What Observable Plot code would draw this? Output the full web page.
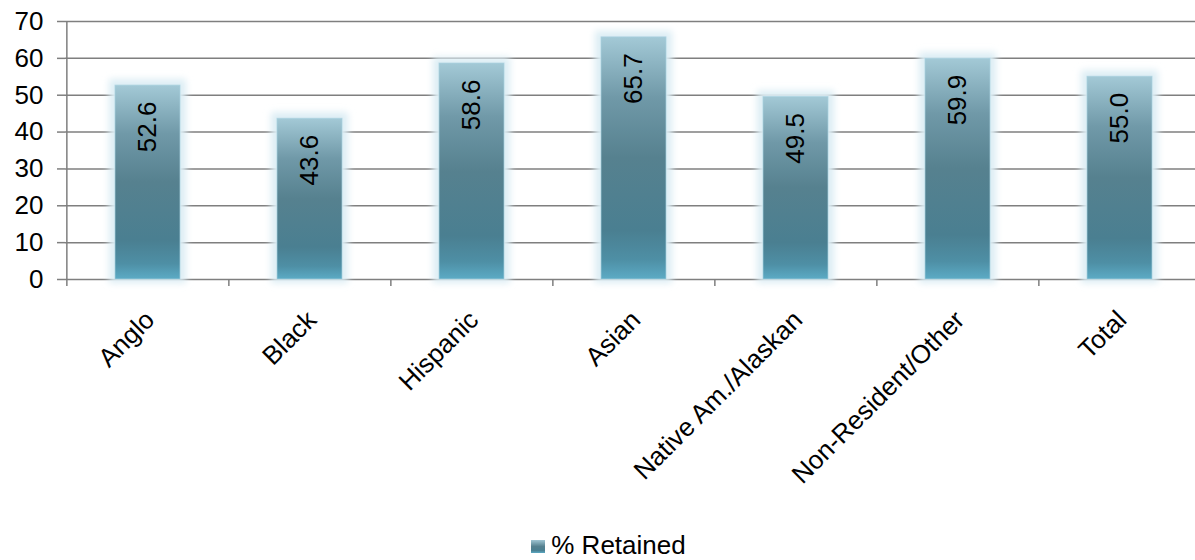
<!DOCTYPE html>
<html>
<head>
<meta charset="utf-8">
<script src="https://cdn.jsdelivr.net/npm/d3@7"></script>
<script src="https://cdn.jsdelivr.net/npm/@observablehq/plot@0.6"></script>
<style>
  html, body { margin: 0; padding: 0; background: #fff; }
  body { width: 1195px; height: 560px; overflow: hidden; font-family: "Liberation Sans", Arial, sans-serif; }
  #legend { height: 41px; display: flex; align-items: center; justify-content: center; padding-left: 22px; font-size: 26px; color: #000; }
  #legend .sw { width: 14px; height: 13px; margin-right: 6px; margin-top: 2px; background: linear-gradient(#9fc5d3, #55808f 50%, #4a7f91 80%, #5ba9c3); }
</style>
</head>
<body>
<div id="chart"></div>
<div id="legend"><span class="sw"></span><span>% Retained</span></div>
<script>
const categories = ["Anglo", "Black", "Hispanic", "Asian", "Native Am./Alaskan", "Non-Resident/Other", "Total"];
const retained = [52.6, 43.6, 58.6, 65.7, 49.5, 59.9, 55.0];
const yTicks = [0, 10, 20, 30, 40, 50, 60, 70];
const seriesName = "% Retained";

const data = categories.map((c, i) => ({cat: c, value: retained[i]}));

const W = 1195, H = 525;
const xRange = [65, 1201];
const step = (xRange[1] - xRange[0]) / categories.length;
const gray = "#7f7f7f";

const chart = Plot.plot({
  width: W,
  height: H,
  marginLeft: 65,
  marginRight: 0,
  marginTop: 21,
  marginBottom: H - 279,
  style: {fontFamily: "Liberation Sans, Arial, sans-serif", fontSize: "26px", color: "#000", background: "#fff"},
  x: {domain: categories, range: xRange, paddingInner: 0.6, paddingOuter: 0.3, axis: null},
  y: {domain: [0, 70], axis: null},
  marks: [
    Plot.ruleY(yTicks, {stroke: gray, strokeWidth: 1.5}),
    Plot.barY(data, {x: "cat", y: "value", fill: "#dcedf4", insetLeft: -6, insetRight: -6, insetTop: -6, insetBottom: -4}),
    Plot.barY(data, {x: "cat", y: "value", fill: "url(#barGrad)", stroke: "#a9d2df", strokeWidth: 1, strokeOpacity: 0.7}),
    Plot.ruleX([categories[0]], {x: d => d, dx: -step / 2, y1: 0, y2: 70, stroke: gray, strokeWidth: 1.5}),
    Plot.axisX({anchor: "bottom", tickSize: 7, dx: -step / 2, tickFormat: () => "", label: null, stroke: gray, strokeWidth: 1.5}),
    Plot.axisY({ticks: yTicks, anchor: "left", tickSize: 8, tickPadding: 14, label: null, stroke: gray, strokeWidth: 1.5, fontSize: 26, fill: "#000"}),
    Plot.text(data, {x: "cat", y: "value", text: d => d.value.toFixed(1), rotate: -90, textAnchor: "end", lineAnchor: "middle", dy: 16, fontSize: 26, fill: "#000"}),
    Plot.text(categories, {x: d => d, y: 0, text: d => d, rotate: -45, textAnchor: "end", lineAnchor: "bottom", dx: 8, dy: 42, fontSize: 26, fill: "#000"})
  ]
});

// gradient + glow defs
const ns = "http://www.w3.org/2000/svg";
const defs = document.createElementNS(ns, "defs");
defs.innerHTML = `
  <linearGradient id="barGrad" x1="0" y1="0" x2="0" y2="1">
    <stop offset="0" stop-color="#a3c9d6"/>
    <stop offset="0.25" stop-color="#7099a8"/>
    <stop offset="0.5" stop-color="#56818f"/>
    <stop offset="0.8" stop-color="#4a7f91"/>
    <stop offset="0.92" stop-color="#4e8fa5"/>
    <stop offset="1" stop-color="#5cabc5"/>
  </linearGradient>
  <filter id="glow" x="-30%" y="-10%" width="160%" height="120%">
    <feGaussianBlur stdDeviation="3.5"/>
  </filter>`;
chart.insertBefore(defs, chart.firstChild);
const barGroups = chart.querySelectorAll('g[aria-label="bar"]');
if (barGroups.length) barGroups[0].setAttribute("filter", "url(#glow)");

document.getElementById("chart").appendChild(chart);
</script>
</body>
</html>
